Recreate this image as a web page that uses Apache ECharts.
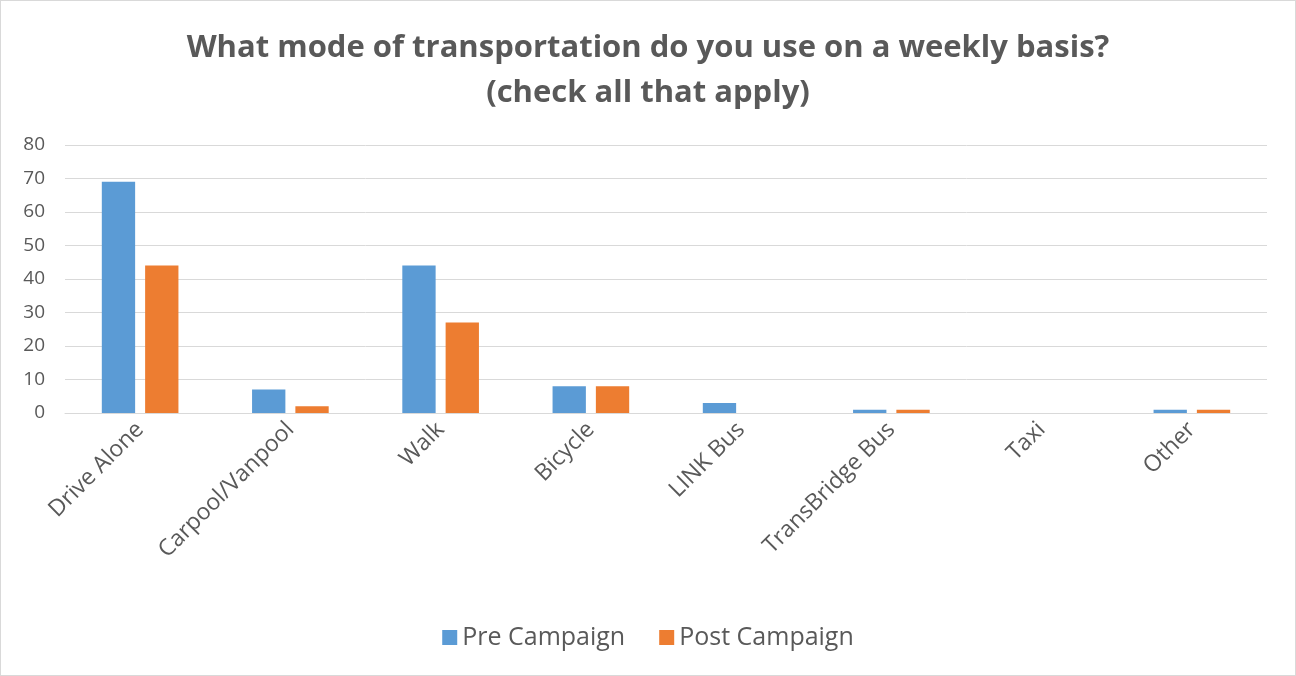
<!DOCTYPE html>
<html>
<head>
<meta charset="utf-8">
<script src="https://cdn.jsdelivr.net/npm/echarts@6/dist/echarts.min.js"></script>
<style>
  html, body { margin: 0; padding: 0; background: #fff; }
  #chart { width: 1294px; height: 674px; border: 1px solid #d9d9d9; }
</style>
</head>
<body>
<div id="chart"></div>
<script>
const categories = ['Drive Alone', 'Carpool/Vanpool', 'Walk', 'Bicycle', 'LINK Bus', 'TransBridge Bus', 'Taxi', 'Other']
const preCampaign = [69, 7, 44, 8, 3, 1, 0, 1]
const postCampaign = [44, 2, 27, 8, 0, 1, 0, 1]
const seriesNames = ['Pre Campaign', 'Post Campaign']

const chart = echarts.init(document.getElementById('chart'))
const textColor = '#595959'
const option = {
  color: ['#5B9BD5', '#ED7D31'],
  textStyle: { fontFamily: 'Open Sans' },
  title: {
    text: 'What mode of transportation do you use on a weekly basis?\n(check all that apply)',
    left: 'center',
    top: 20,
    textStyle: {
      color: textColor,
      fontSize: 31,
      fontWeight: 'bold',
      lineHeight: 45,
      fontFamily: 'Open Sans'
    }
  },
  legend: {
    bottom: 20,
    left: 'center',
    itemWidth: 15,
    itemHeight: 15,
    itemGap: 34,
    icon: 'rect',
    textStyle: { color: textColor, fontSize: 25 },
    data: seriesNames
  },
  grid: {
    left: 64,
    right: 28,
    top: 144,
    bottom: 262
  },
  xAxis: {
    type: 'category',
    data: categories,
    axisTick: { show: false },
    axisLine: { lineStyle: { color: '#d9d9d9', width: 1 } },
    axisLabel: {
      color: textColor,
      fontSize: 23,
      rotate: 45,
      interval: 0,
      margin: 13
    }
  },
  yAxis: {
    type: 'value',
    min: 0,
    max: 80,
    interval: 10,
    axisLine: { show: false },
    axisTick: { show: false },
    axisLabel: { color: textColor, fontSize: 19, margin: 20 },
    splitLine: { lineStyle: { color: '#d9d9d9', width: 1 } }
  },
  series: [
    {
      name: seriesNames[0],
      type: 'bar',
      data: preCampaign,
      barGap: '30%',
      barCategoryGap: '49%'
    },
    {
      name: seriesNames[1],
      type: 'bar',
      data: postCampaign
    }
  ]
}
chart.setOption(option)
</script>
</body>
</html>
